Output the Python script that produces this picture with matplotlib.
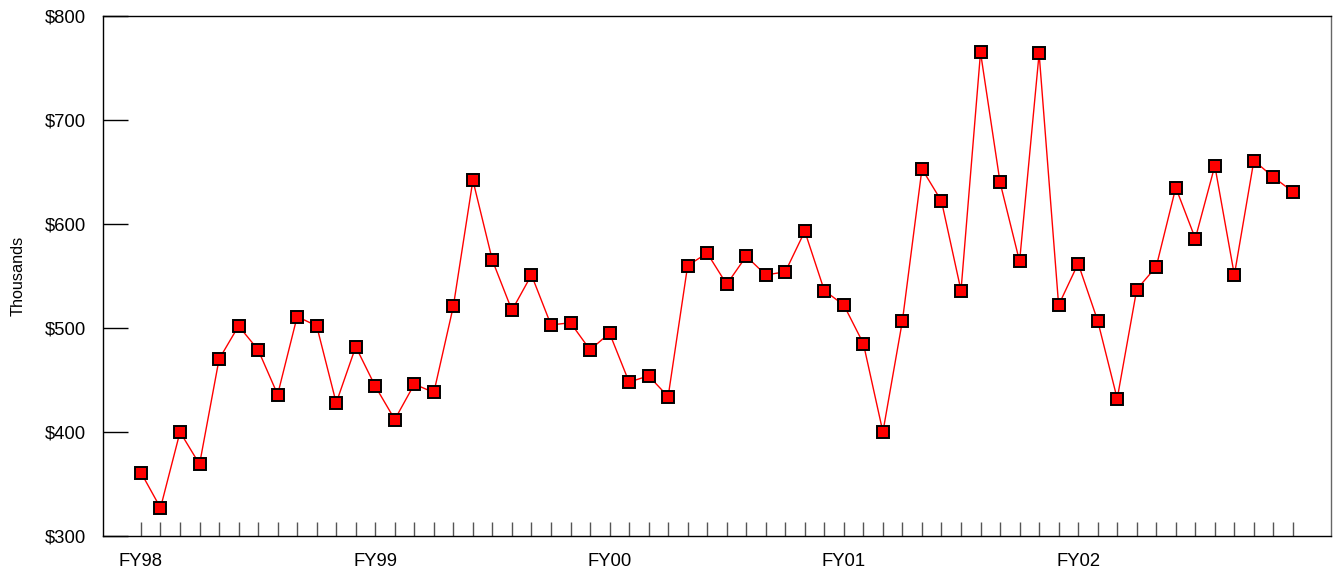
import matplotlib
matplotlib.use("Agg")
import matplotlib.pyplot as plt
from matplotlib.ticker import FixedLocator, FuncFormatter

plt.rcParams['font.family'] = ['Liberation Sans', 'DejaVu Sans']

# Monthly values (thousands of dollars), FY98 through FY02
fiscal_years = ["FY98", "FY99", "FY00", "FY01", "FY02"]
months_per_year = 12
values = [
    361, 327, 400, 369, 470, 502, 479, 436, 511, 502, 428, 482,
    444, 412, 446, 438, 521, 642, 565, 517, 551, 503, 505, 479,
    495, 448, 454, 434, 560, 572, 542, 569, 551, 554, 593, 536,
    522, 485, 400, 507, 653, 622, 536, 765, 640, 564, 764, 522,
    562, 507, 432, 537, 559, 635, 586, 656, 551, 661, 645, 631,
]
y_ticks = [300, 400, 500, 600, 700, 800]

fig = plt.figure(figsize=(13.33, 5.71), dpi=100)
ax = fig.add_axes([0.0769, 0.0613, 0.9216, 0.9107])

x = list(range(len(values)))
ax.plot(x, values, color="#ff0000", lw=1.0, marker="s", ms=8.6,
        mfc="#ff0000", mec="black", mew=1.4, zorder=3)

ax.set_xlim(-1.97, 60.95)
ax.set_ylim(300, 800)

# x axis: a tick for every month, fiscal-year labels at the first month
major_pos = [i * months_per_year for i in range(len(fiscal_years))]
ax.xaxis.set_major_locator(FixedLocator(major_pos))
ax.set_xticklabels(fiscal_years)
ax.xaxis.set_minor_locator(FixedLocator(x))
ax.tick_params(axis="x", which="both", direction="in", length=10,
               width=1.0, color="#555555", pad=12, labelsize=13.3)

# y axis: dollar labels, inward ticks
ax.yaxis.set_major_locator(FixedLocator(y_ticks))
ax.yaxis.set_major_formatter(FuncFormatter(lambda v, p: f"${v:.0f}"))
ax.tick_params(axis="y", which="major", direction="in", length=18,
               width=1.0, color="black", pad=12, labelsize=13.3)
ax.set_ylabel("Thousands", fontsize=11.7, labelpad=14)

for s in ax.spines.values():
    s.set_linewidth(1.0)
    s.set_color("black")
ax.spines["right"].set_color("#666666")

fig.savefig("out.png", dpi=100)
